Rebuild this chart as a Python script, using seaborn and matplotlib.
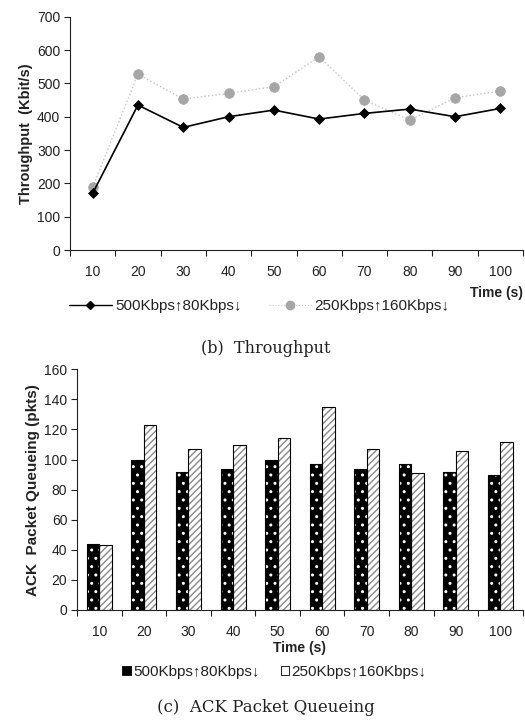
import matplotlib
matplotlib.use("Agg")
import matplotlib.pyplot as plt
import seaborn as sns
import pandas as pd
from matplotlib.lines import Line2D
from matplotlib.patches import Patch, Rectangle

# Dados
tempo = [10, 20, 30, 40, 50, 60, 70, 80, 90, 100]
series = ["500Kbps↑80Kbps↓", "250Kbps↑160Kbps↓"]
vazao_a = [170, 435, 368, 400, 420, 393, 410, 423, 400, 425]
vazao_b = [188, 528, 453, 470, 490, 580, 450, 390, 457, 477]
fila_a = [44, 100, 92, 94, 100, 97, 94, 97, 92, 90]
fila_b = [43, 123, 107, 110, 114, 135, 107, 91, 106, 112]

sns.set_theme(style="white")
plt.rcParams['font.family'] = ['Liberation Sans', 'DejaVu Sans']
plt.rcParams['hatch.linewidth'] = 1.0

df_vazao = pd.DataFrame({
    "Tempo": [str(t) for t in tempo] * 2,
    "Vazao": vazao_a + vazao_b,
    "Serie": [series[0]] * 10 + [series[1]] * 10,
})
df_fila = pd.DataFrame({
    "Tempo": [str(t) for t in tempo] * 2,
    "Fila": fila_a + fila_b,
    "Serie": [series[0]] * 10 + [series[1]] * 10,
})

fig = plt.figure(figsize=(5.25, 7.27), dpi=100)
ax1 = fig.add_axes([0.1333, 0.656, 0.863, 0.321])
ax2 = fig.add_axes([0.1467, 0.161, 0.849, 0.331])

cor_eixo = "#222222"
cor_texto = "#222222"
cinza = "#a6a6a6"
fs = 10
fs_leg = 11

# ---- (b) Throughput ----
sns.pointplot(data=df_vazao, x="Tempo", y="Vazao", hue="Serie", hue_order=series,
              palette=["black", cinza], markers=["D", "o"], linestyles=["-", ":"],
              errorbar=None, ax=ax1, legend=False)
linhas = [ln for ln in ax1.lines if len(ln.get_xdata()) == 10]
for ln, lw, ms, z in zip(linhas, [1.2, 1.0], [5, 7], [4, 3]):
    ln.set_linewidth(lw)
    ln.set_markersize(ms)
    ln.set_markeredgewidth(0.5)
    ln.set_zorder(z)
linhas[1].set_color("#c4c4c4")
linhas[1].set_markerfacecolor(cinza)
linhas[1].set_markeredgecolor(cinza)
ax1.set_ylim(0, 700)
ax1.set_xlim(-0.5, 9.5)
ax1.set_yticks(range(0, 701, 100))
ax1.set_ylabel("Throughput  (Kbit/s)", fontsize=10.5, fontweight="bold",
               labelpad=3, color=cor_texto)
ax1.set_xlabel("Time (s)", fontsize=10, fontweight="bold", ha="right", color=cor_texto)
ax1.xaxis.set_label_coords(1.0, -0.155)

# ---- (c) ACK Packet Queueing ----
sns.barplot(data=df_fila, x="Tempo", y="Fila", hue="Serie", hue_order=series,
            palette=["black", "white"], width=0.56, errorbar=None, ax=ax2, legend=False)
# a cor da hachura vem da cor da borda: contorno preto desenhado por cima
for p in ax2.containers[0]:
    p.set_facecolor("black")
    p.set_edgecolor("white")
    p.set_linewidth(0)
    p.set_hatch("..")
for p in ax2.containers[1]:
    p.set_facecolor("white")
    p.set_edgecolor("#8a8a8a")
    p.set_linewidth(0)
    p.set_hatch("/////")
for cont in ax2.containers:
    for p in cont:
        ax2.add_patch(Rectangle(p.get_xy(), p.get_width(), p.get_height(), fill=False,
                                edgecolor="black", linewidth=0.8, zorder=p.get_zorder() + 0.1))
ax2.set_ylim(0, 160)
ax2.set_xlim(-0.5, 9.5)
ax2.set_yticks(range(0, 161, 20))
ax2.set_ylabel("ACK  Packet Queueing (pkts)", fontsize=11, fontweight="bold",
               labelpad=3, color=cor_texto)
ax2.set_xlabel("Time (s)", fontsize=10, fontweight="bold", labelpad=1, color=cor_texto)

for ax in (ax1, ax2):
    sns.despine(ax=ax)
    for s in ("left", "bottom"):
        ax.spines[s].set_color(cor_eixo)
        ax.spines[s].set_linewidth(0.8)
    ax.tick_params(axis="y", which="major", left=True, length=4, width=0.8,
                   color=cor_eixo, labelsize=fs, pad=3, labelcolor=cor_texto)
    ax.tick_params(axis="x", which="major", bottom=False, labelsize=fs, pad=5,
                   labelcolor=cor_texto)
    ax.set_xticks([i - 0.5 for i in range(11)], minor=True)
    ax.tick_params(axis="x", which="minor", bottom=True, length=4, width=0.8,
                   color=cor_eixo)
    ax.grid(False)

# Legendas
h1 = [Line2D([], [], color="black", marker="D", markersize=4, lw=1.0),
      Line2D([], [], color="#c4c4c4", marker="o", markersize=6, lw=0.8, ls=":",
             markerfacecolor=cinza, markeredgecolor=cinza)]
fig.legend(h1, series, loc="center", bbox_to_anchor=(0.494, 1 - 306 / 727), ncol=2,
           frameon=False, fontsize=fs_leg, handlelength=2.8, handletextpad=0.2,
           columnspacing=1.8, labelcolor=cor_texto)

h2 = [Patch(facecolor="black", edgecolor="black", lw=0.6),
      Patch(facecolor="white", edgecolor="black", lw=0.6)]
fig.legend(h2, series, loc="center", bbox_to_anchor=(0.523, 1 - 672 / 727), ncol=2,
           frameon=False, fontsize=fs_leg, handlelength=0.55, handleheight=0.55,
           handletextpad=0.15, columnspacing=1.4, labelcolor=cor_texto)

# Legendas das figuras
fig.text(0.507, 1 - 349 / 727, "(b)  Throughput", ha="center", va="center",
         fontsize=11.5, family="DejaVu Serif", color=cor_texto)
fig.text(0.507, 1 - 708 / 727, "(c)  ACK Packet Queueing", ha="center", va="center",
         fontsize=12, family="DejaVu Serif", color=cor_texto)

fig.savefig("out.png", dpi=100)
